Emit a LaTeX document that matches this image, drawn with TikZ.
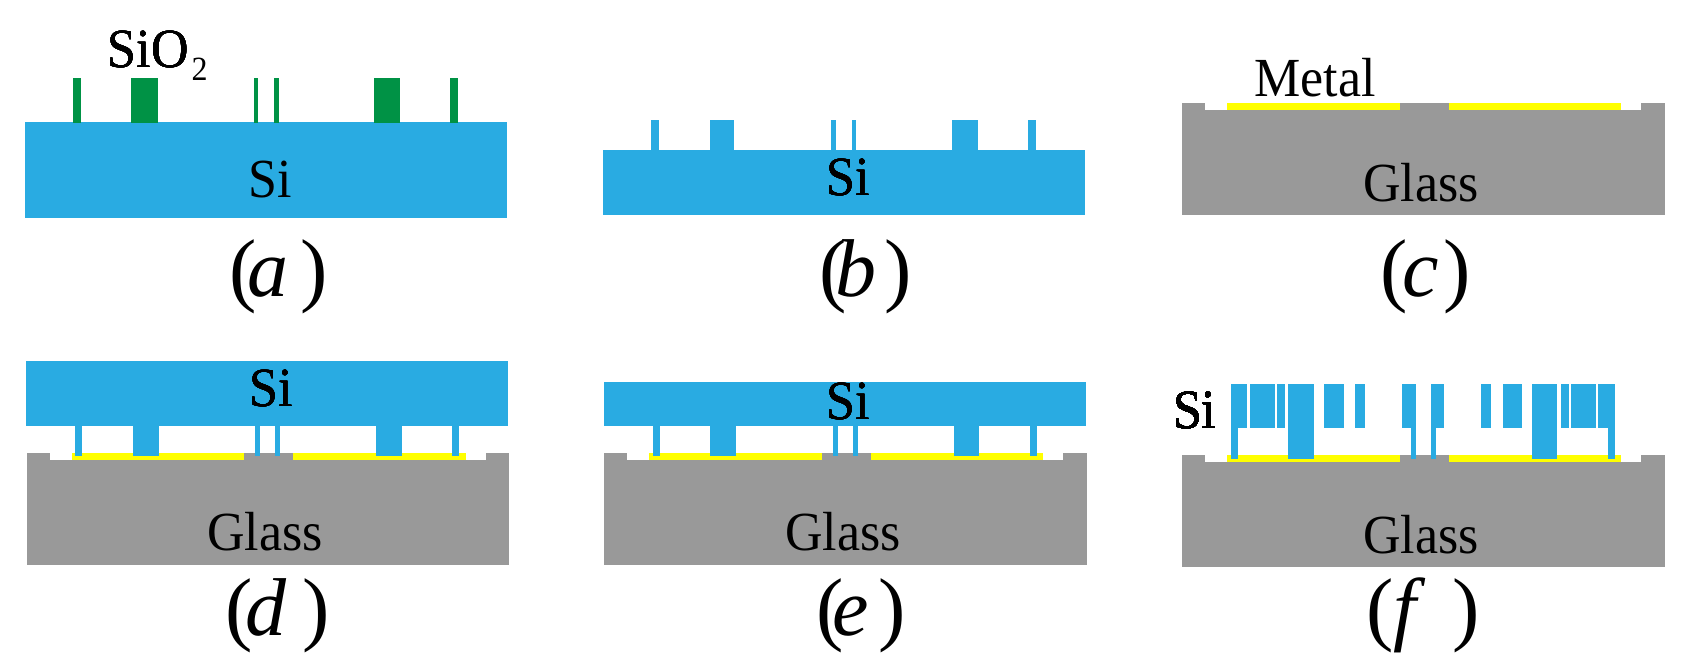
\documentclass[tikz,border=0pt]{standalone}
\usepackage{fontspec}
\setmainfont{Liberation Serif}
\definecolor{siblue}{HTML}{29ABE2}
\definecolor{oxgreen}{HTML}{009245}
\definecolor{glassgrey}{HTML}{999999}
\definecolor{metalyellow}{HTML}{FFFF00}
\tikzset{
  lbl/.style={anchor=base west,inner sep=0pt,outer sep=0pt,font=\fontsize{26}{26}\selectfont,yscale=1.06,transform shape},
  captext/.style={anchor=base west,inner sep=0pt,outer sep=0pt,font=\fontsize{41}{41}\selectfont},
}
% \glassplate{left}{top}{bottom}
\newcommand{\glassplate}[3]{%
  \fill[glassgrey] (#1,#2) rectangle ++(482.4,#3-#2);
  \fill[white] (#1+23.1,#2) rectangle (#1+217.5,#2+7);
  \fill[white] (#1+266.5,#2) rectangle (#1+459.2,#2+7);
  \fill[metalyellow] (#1+45.2,#2) rectangle (#1+217.5,#2+7);
  \fill[metalyellow] (#1+266.5,#2) rectangle (#1+439.2,#2+7);
}
\newcommand{\barr}[5][siblue]{\fill[#1] (#2,#4) rectangle (#3,#5);}
\begin{document}
\begin{tikzpicture}[x=0.5pt,y=-0.5pt]
\useasboundingbox (0,0) rectangle (1691,670);
% (a)
\fill[siblue] (25.2,122) rectangle (507.2,218);
\foreach \l/\r in {73.2/81.1,131.2/157.5,253.8/257.6,273.8/278.7,374/400.2,450.3/458.2}
  \barr[oxgreen]{\l}{\r}{78}{122.7}
\node[lbl] (sio) at (107.7,67.3) {SiO};
\node[lbl,font=\fontsize{16}{16}\selectfont] (sio2) at (191.6,80.7) {2};
\node[lbl] (sia) at (248.6,197.3) {Si};
\node[captext] (capa) at (229,296.7) {(\hspace{-4.5pt}\textit{a}\hspace{6pt})};
% (b)
\fill[siblue] (603.1,150) rectangle (1085.2,215);
\foreach \l/\r in {651.1/659.1,709.5/734.3,830.7/835.5,851.8/855.9,951.9/978.1,1028.2/1036.1}
  \barr{\l}{\r}{120}{150.5}
\node[lbl] (sib) at (826.2,195) {Si};
\node[captext] (capb) at (819,296.7) {(\hspace{-5.5pt}\textit{b}\hspace{4pt})};
% (c)
\glassplate{1182.1}{103}{215}
\node[lbl] (metal) at (1254.6,96) {Metal};
\node[lbl] (glc) at (1363.4,201.7) {Glass};
\node[captext] (capc) at (1380.5,296.7) {(\hspace{-2.5pt}\textit{c}\hspace{2pt})};
% (d)
\glassplate{26.9}{453}{565}
\fill[siblue] (25.9,361) rectangle (508.3,426);
\foreach \l/\r in {75.3/82.2,133.3/158.5,254.8/259.7,274.9/279.7,376/401.9,452.3/459.2}
  \barr{\l}{\r}{425.5}{456}
\node[lbl] (sid) at (249.3,406) {Si};
\node[lbl] (gld) at (207.2,550.7) {Glass};
\node[captext] (capd) at (225.5,635) {(\hspace{-3.5pt}\textit{d}\hspace{7.5pt})};
% (e)
\glassplate{604.2}{453}{565}
\fill[siblue] (604.2,382) rectangle (1086.2,426);
\foreach \l/\r in {653.2/660.1,710.2/736.4,832.8/837.6,852.8/857.6,954/979.2,1030.3/1037.2}
  \barr{\l}{\r}{425.5}{456}
\node[lbl] (sie) at (826.9,419.3) {Si};
\node[lbl] (gle) at (785.1,550.7) {Glass};
\node[captext] (cape) at (816,635) {(\hspace{-5.5pt}\textit{e}\hspace{5pt})};
% (f)
\glassplate{1182.1}{455}{567}
\foreach \l/\r in {1231.1/1247.3,1250.1/1275.3,1277.4/1285.3,1324.3/1343.7,1355.4/1365.4,1401.7/1415.8,1430.7/1443.8,1480.8/1490.8,1502.9/1521.9,1561.2/1569.2,1571.2/1596.1,1598.2/1615.1}
  \barr{\l}{\r}{384}{428}
\foreach \l/\r in {1288.4/1314.3,1531.9/1557.1,1231.1/1238.4,1410.7/1415.8,1430.7/1435.9,1608.2/1615.1}
  \barr{\l}{\r}{384}{459}
\node[lbl] (sif) at (1173,428.3) {Si};
\node[lbl] (glf) at (1363.4,553.3) {Glass};
\node[captext] (capf) at (1366.5,635) {(\textit{f}\hspace{13pt})};
\end{tikzpicture}
\end{document}
